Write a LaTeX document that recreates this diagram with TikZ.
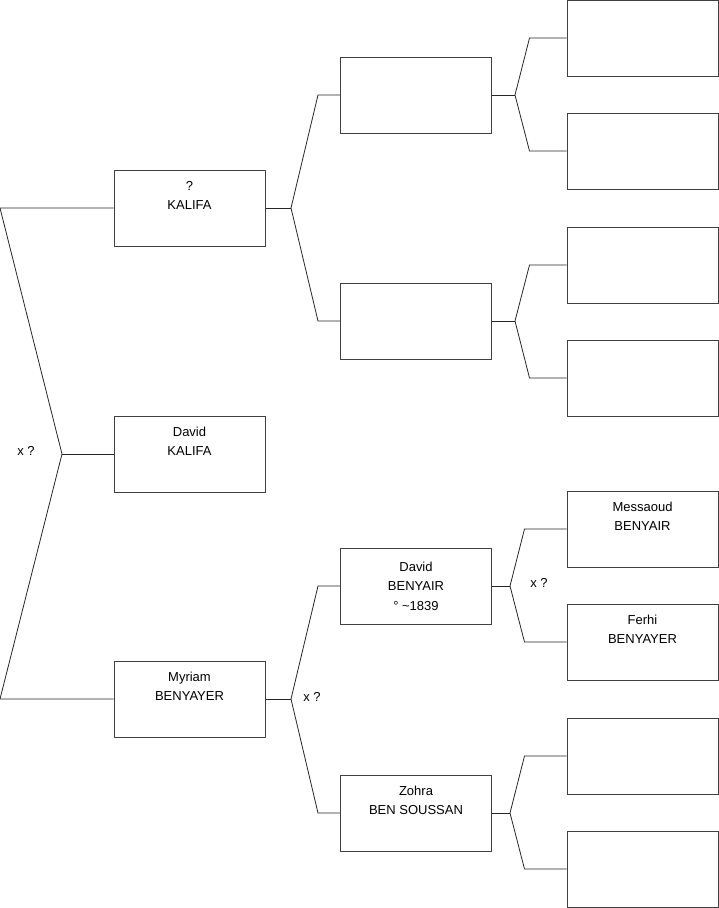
\documentclass[tikz,border=0pt]{standalone}
\usepackage{fontspec}
\setmainfont{Liberation Sans}
\begin{document}
\begin{tikzpicture}[
        x=1pt, y=-1pt,
        person/.style={draw=black!75, line width=1pt, minimum width=151pt, minimum height=76pt,
            inner sep=0pt, align=center, font=\fontsize{13}{19.5}\selectfont},
        link/.style={line width=0.8pt, black!85},
        union/.style={font=\fontsize{13}{15}\selectfont}
    ]
        \useasboundingbox (0,0) rectangle (719,908);

        % Generation 1
        \node[person] (kalifa) at (189.5, 208) {?\\KALIFA\\\strut};
        \node[person] (david) at (189.5, 454) {David\\KALIFA\\\strut};
        \node[person] (myriam) at (189.5, 699) {Myriam\\BENYAYER\\\strut};

        % Generation 2
        \node[person] (kalifaF) at (416, 95) {};
        \node[person] (kalifaM) at (416, 321) {};
        \node[person] (benyair) at (416, 586) {David\\BENYAIR\\° \textasciitilde1839};
        \node[person] (zohra) at (416, 813) {Zohra\\BEN SOUSSAN\\\strut};

        % Generation 3
        \node[person] (ggp1) at (642.5, 38) {};
        \node[person] (ggp2) at (642.5, 151) {};
        \node[person] (ggp3) at (642.5, 265) {};
        \node[person] (ggp4) at (642.5, 378) {};
        \node[person] (messaoud) at (642.5, 529) {Messaoud\\BENYAIR\\\strut};
        \node[person] (ferhi) at (642.5, 642) {Ferhi\\BENYAYER\\\strut};
        \node[person] (ggp7) at (642.5, 756) {};
        \node[person] (ggp8) at (642.5, 869) {};

        % Fork points
        \coordinate (rootTop) at (0, 208);
        \coordinate (rootBot) at (0, 699);
        \coordinate (root) at (62, 454);
        \coordinate (forkK) at (291, 208);
        \coordinate (forkM) at (291, 699);
        \coordinate (forkKF) at (515, 95);
        \coordinate (forkKM) at (515, 321);
        \coordinate (forkB) at (510, 586);
        \coordinate (forkZ) at (510, 813);

        % Connectors
        \draw[link] (kalifa.west) -- (rootTop) -- (root) -- (rootBot) -- (myriam.west);
        \draw[link] (root) -- (david.west);

        \draw[link] (kalifa.east) -- (forkK);
        \draw[link] (forkK) -- ([xshift=-22pt]kalifaF.west) -- (kalifaF.west);
        \draw[link] (forkK) -- ([xshift=-22pt]kalifaM.west) -- (kalifaM.west);
        \draw[link] (myriam.east) -- (forkM);
        \draw[link] (forkM) -- ([xshift=-22pt]benyair.west) -- (benyair.west);
        \draw[link] (forkM) -- ([xshift=-22pt]zohra.west) -- (zohra.west);

        \draw[link] (kalifaF.east) -- (forkKF);
        \draw[link] (forkKF) -- ([xshift=-37pt]ggp1.west) -- (ggp1.west);
        \draw[link] (forkKF) -- ([xshift=-37pt]ggp2.west) -- (ggp2.west);
        \draw[link] (kalifaM.east) -- (forkKM);
        \draw[link] (forkKM) -- ([xshift=-37pt]ggp3.west) -- (ggp3.west);
        \draw[link] (forkKM) -- ([xshift=-37pt]ggp4.west) -- (ggp4.west);
        \draw[link] (benyair.east) -- (forkB);
        \draw[link] (forkB) -- ([xshift=-42pt]messaoud.west) -- (messaoud.west);
        \draw[link] (forkB) -- ([xshift=-42pt]ferhi.west) -- (ferhi.west);
        \draw[link] (zohra.east) -- (forkZ);
        \draw[link] (forkZ) -- ([xshift=-42pt]ggp7.west) -- (ggp7.west);
        \draw[link] (forkZ) -- ([xshift=-42pt]ggp8.west) -- (ggp8.west);

        % Unions
        \node[union] (unionRoot) at (26, 451) {x ?};
        \node[union] (unionM) at (312, 697) {x ?};
        \node[union] (unionB) at (539, 583) {x ?};
    \end{tikzpicture}
\end{document}
